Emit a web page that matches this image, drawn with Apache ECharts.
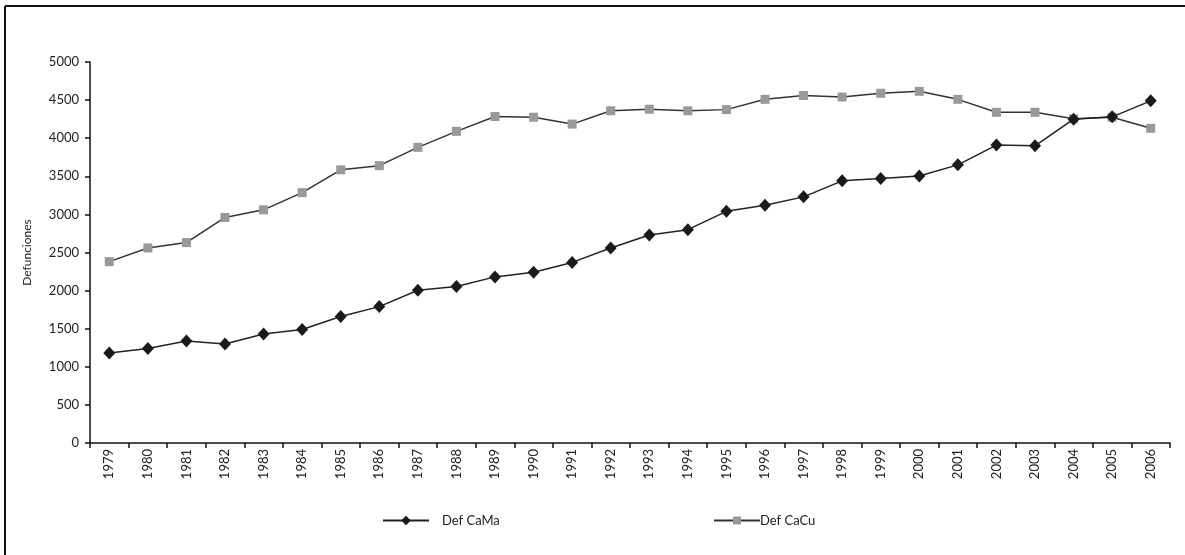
<!DOCTYPE html>
<html>
<head>
<meta charset="utf-8">
<script src="https://cdn.jsdelivr.net/npm/echarts@6/dist/echarts.min.js"></script>
<style>
html,body{margin:0;padding:0;background:#fff;}
#chart{width:1185px;height:555px;}
</style>
</head>
<body>
<div id="chart"></div>
<script>
var years = ['1979','1980','1981','1982','1983','1984','1985','1986','1987','1988','1989','1990','1991','1992','1993','1994','1995','1996','1997','1998','1999','2000','2001','2002','2003','2004','2005','2006'];
var defCaMa = [1180,1240,1340,1300,1430,1490,1660,1790,2005,2055,2180,2240,2370,2560,2730,2800,3040,3120,3230,3440,3470,3505,3650,3910,3900,4250,4280,4490];
var defCaCu = [2380,2560,2630,2960,3060,3285,3585,3640,3880,4090,4285,4275,4185,4360,4380,4360,4375,4510,4560,4540,4590,4615,4510,4340,4340,4255,4275,4130];
var yTicks = [0,500,1000,1500,2000,2500,3000,3500,4000,4500,5000];

var FONT = 'Lato';
var chart = echarts.init(document.getElementById('chart'));
chart.setOption({
  animation: false,
  backgroundColor: '#fff',
  grid: {left: 90, right: 15, top: 62, bottom: 112, containLabel: false},
  graphic: [
    {type: 'line', shape: {x1: 5, y1: 6, x2: 1185, y2: 6}, style: {stroke: '#111', lineWidth: 2}},
    {type: 'line', shape: {x1: 5, y1: 6, x2: 5, y2: 555}, style: {stroke: '#111', lineWidth: 2}}
  ],
  legend: [
    {
      data: [{name: 'Def CaMa'}],
      left: 377, top: 509,
      itemWidth: 46, itemHeight: 12,
      textStyle: {fontFamily: FONT, fontSize: 13, color: '#222', padding: [0,0,0,8]}
    },
    {
      data: [{name: 'Def CaCu'}],
      left: 708, top: 509,
      itemWidth: 46, itemHeight: 10,
      textStyle: {fontFamily: FONT, fontSize: 13, color: '#222', padding: [0,0,0,-5]}
    }
  ],
  xAxis: {
    type: 'category',
    data: years,
    boundaryGap: true,
    axisLine: {lineStyle: {color: '#111', width: 1.5}},
    axisTick: {show: true, length: 5, lineStyle: {color: '#111', width: 1.5}},
    axisLabel: {rotate: 90, margin: 6, fontFamily: FONT, fontSize: 13, color: '#222', interval: 0}
  },
  yAxis: {
    type: 'value',
    min: 0, max: 5000, interval: 500,
    name: 'Defunciones',
    nameLocation: 'middle',
    nameGap: 57,
    nameRotate: 90,
    nameTextStyle: {fontFamily: FONT, fontSize: 12, color: '#222'},
    splitLine: {show: false},
    axisLine: {show: true, lineStyle: {color: '#111', width: 1.5}},
    axisTick: {show: true, length: 5, lineStyle: {color: '#111', width: 1.5}},
    axisLabel: {margin: 11, fontFamily: FONT, fontSize: 13, color: '#222',
      formatter: function(v){ return yTicks.indexOf(v) >= 0 ? String(v) : ''; }}
  },
  series: [
    {
      name: 'Def CaMa',
      type: 'line',
      data: defCaMa,
      symbol: 'diamond',
      symbolSize: [12, 13],
      lineStyle: {color: '#222', width: 1.5},
      itemStyle: {color: '#1a1a1a', borderWidth: 0},
      z: 3
    },
    {
      name: 'Def CaCu',
      type: 'line',
      data: defCaCu,
      symbol: 'rect',
      symbolSize: 9,
      lineStyle: {color: '#333', width: 1.5},
      itemStyle: {color: '#999', borderWidth: 0},
      z: 2
    }
  ]
});
</script>
</body>
</html>
